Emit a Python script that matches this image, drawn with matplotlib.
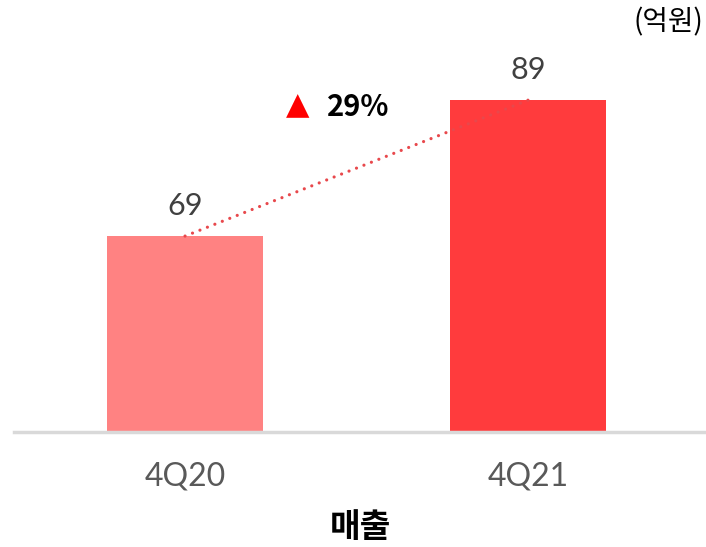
import matplotlib
matplotlib.use('Agg')
import matplotlib.pyplot as plt

# data
quarters = ['4Q20', '4Q21']
sales = [69, 89]
growth = '29%'
unit = '(억원)'
title = '매출'

bar_colors = ['#FF8282', '#FF3B3D']

fig = plt.figure(figsize=(7.06, 5.47), dpi=100)
ax = fig.add_axes([14/706, 1-432/547, 692/706, 432/547])

x = list(range(len(quarters)))
ax.bar(x, sales, width=0.454, color=bar_colors, bottom=0, zorder=2)
ax.set_ylim(40.2, 103.7)
ax.set_xlim(-0.498, 1.517)

# dotted growth line between bar tops
ax.plot(x, sales, linestyle=(0, (0.01, 2.5)), color='#E8484C', linewidth=2.3,
        dash_capstyle='round', zorder=3)

for xi, v in zip(x, sales):
    ax.text(xi, v + 2.3, str(v), ha='center', va='bottom', fontsize=22,
            family='Lato', weight='normal', color='#404040')

ax.text(0.329, 88.2, '▲', ha='center', va='center', fontsize=22, color='#FF0000',
        family='DejaVu Sans')
ax.text(0.413, 88.0, growth, ha='left', va='center', fontsize=21, weight='bold',
        family=['Noto Sans CJK KR', 'DejaVu Sans'], color='#000000')

for side in ['top', 'right', 'left']:
    ax.spines[side].set_visible(False)
ax.spines['bottom'].set_color('#D9D9D9')
ax.spines['bottom'].set_linewidth(2.5)
ax.set_yticks([])
ax.set_xticks(x)
ax.set_xticklabels(quarters, fontsize=23, family='Lato', weight='normal', color='#595959')
ax.tick_params(axis='x', length=0, pad=21)

fig.text(703/706, 1-22/547, unit, ha='right', va='center', fontsize=20,
         family=['Noto Sans CJK KR', 'DejaVu Sans'], color='#000000')
fig.text(360/706, 1-527/547, title, ha='center', va='center', fontsize=24,
         weight='bold', family=['Noto Sans CJK KR', 'DejaVu Sans'], color='#000000')

fig.savefig('out.png', dpi=100)
